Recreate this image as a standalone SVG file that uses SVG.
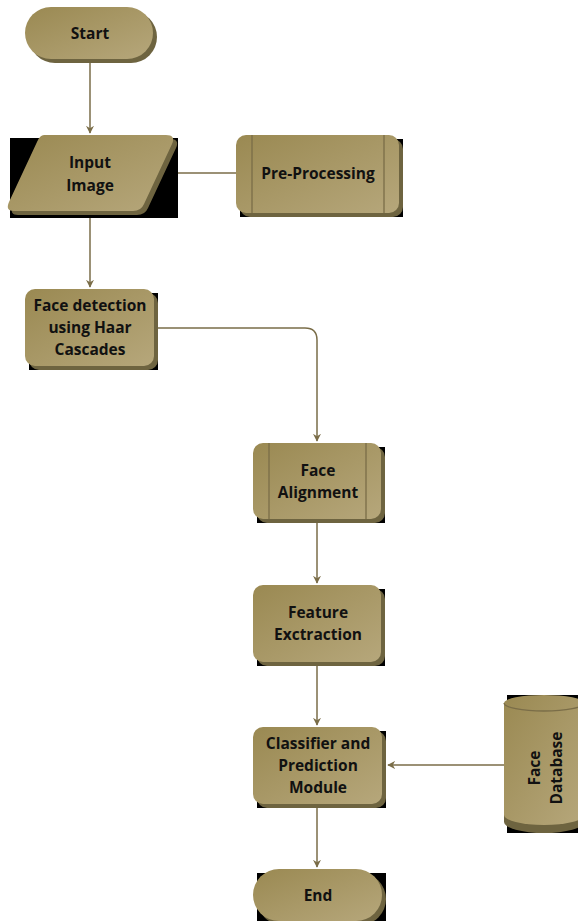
<svg xmlns="http://www.w3.org/2000/svg" width="578" height="921" viewBox="0 0 578 921">
<defs>
<linearGradient id="g" x1="0" y1="0" x2="1" y2="1">
<stop offset="0" stop-color="#9a8952"/>
<stop offset="1" stop-color="#b6a77b"/>
</linearGradient>
<marker id="ah" viewBox="0 0 10 10" refX="9" refY="5" markerWidth="8" markerHeight="8" orient="auto" markerUnits="userSpaceOnUse">
<path d="M0,0 L10,5 L0,10 L3,5 Z" fill="#7a6d48"/>
</marker>
</defs>
<style>
.bg{fill:#000}
.sh{fill:#6e6440}
.m{fill:url(#g)}
.ln{stroke:#7a6d48;stroke-width:1.3;fill:none}
.t{font-family:"Open Sans","Liberation Sans",sans-serif;font-weight:bold;font-size:15.5px;fill:#111;text-anchor:middle}
.c{stroke:#7a6d48;stroke-width:1.5;fill:none}
</style>
<rect width="578" height="921" fill="#fff"/>
<g id="connectors">
<path class="c" d="M90,63 V133" marker-end="url(#ah)"/>
<path class="c" d="M236,173 H170" marker-end="url(#ah)"/>
<path class="c" d="M90,217 V287" marker-end="url(#ah)"/>
<path class="c" d="M158,328 H305 Q317,328 317,340 V441" marker-end="url(#ah)"/>
<path class="c" d="M317,523 V583" marker-end="url(#ah)"/>
<path class="c" d="M317,666 V725" marker-end="url(#ah)"/>
<path class="c" d="M504,765 H388" marker-end="url(#ah)"/>
<path class="c" d="M317,808 V867" marker-end="url(#ah)"/>
</g>
<g id="start">
<rect class="sh" x="29" y="11" width="128" height="52" rx="26"/>
<rect class="m" x="25" y="7" width="128" height="52" rx="26"/>
<text class="t" x="90" y="39">Start</text>
</g>
<g id="input">
<rect class="bg" x="10" y="138" width="168" height="80"/>
<path class="sh" d="M48,139 H170 Q180,139 176,148 L148,208 Q145,215 137,215 H18 Q9,215 13,206 L41,146 Q44,139 48,139 Z"/>
<path class="m" d="M44,135 H166 Q176,135 172,144 L144,204 Q141,211 133,211 H14 Q5,211 9,202 L37,142 Q40,135 44,135 Z"/>
<text class="t" x="90" y="168">Input</text>
<text class="t" x="90" y="191">Image</text>
</g>
<g id="preprocessing">
<rect class="bg" x="240" y="139" width="163" height="78"/>
<rect class="sh" x="240" y="139" width="163" height="78" rx="10"/>
<rect class="m" x="236" y="135" width="163" height="78" rx="10"/>
<path class="ln" d="M252,135 V213 M384,135 V213"/>
<text class="t" x="318" y="179">Pre-Processing</text>
</g>
<g id="facedetection">
<rect class="bg" x="29" y="293" width="129" height="77"/>
<rect class="sh" x="29" y="293" width="129" height="77" rx="10"/>
<rect class="m" x="25" y="289" width="129" height="77" rx="10"/>
<text class="t" x="90" y="311">Face detection</text>
<text class="t" x="90" y="333">using Haar</text>
<text class="t" x="90" y="355">Cascades</text>
</g>
<g id="alignment">
<rect class="bg" x="257" y="447" width="128" height="76"/>
<rect class="sh" x="257" y="447" width="128" height="76" rx="10"/>
<rect class="m" x="253" y="443" width="128" height="76" rx="10"/>
<path class="ln" d="M269,443 V519 M366,443 V519"/>
<text class="t" x="318" y="476">Face</text>
<text class="t" x="318" y="498">Alignment</text>
</g>
<g id="feature">
<rect class="bg" x="257" y="589" width="128" height="77"/>
<rect class="sh" x="257" y="589" width="128" height="77" rx="10"/>
<rect class="m" x="253" y="585" width="128" height="77" rx="10"/>
<text class="t" x="318" y="618">Feature</text>
<text class="t" x="318" y="640">Exctraction</text>
</g>
<g id="classifier">
<rect class="bg" x="257" y="731" width="129" height="77"/>
<rect class="sh" x="257" y="731" width="129" height="77" rx="10"/>
<rect class="m" x="253" y="727" width="129" height="77" rx="10"/>
<text class="t" x="318" y="749">Classifier and</text>
<text class="t" x="318" y="771">Prediction</text>
<text class="t" x="318" y="793">Module</text>
</g>
<g id="database">
<rect class="bg" x="507" y="695" width="71" height="138"/>
<path class="sh" d="M504,703 V822 A40,11 0 0 0 584,822 V703 Z"/>
<path class="m" d="M504,703 V815 A40,10 0 0 0 584,815 V703 A40,8 0 0 0 504,703 Z"/>
<path class="ln" d="M504,703 A40,8 0 0 0 584,703"/>
<text class="t" transform="translate(540,768) rotate(-90)">Face</text>
<text class="t" transform="translate(562,768) rotate(-90)">Database</text>
</g>
<g id="end">
<rect class="bg" x="257" y="873" width="129" height="48"/>
<rect class="sh" x="257" y="873" width="129" height="52" rx="26"/>
<rect class="m" x="253" y="869" width="129" height="52" rx="26"/>
<text class="t" x="318" y="901">End</text>
</g>
</svg>
